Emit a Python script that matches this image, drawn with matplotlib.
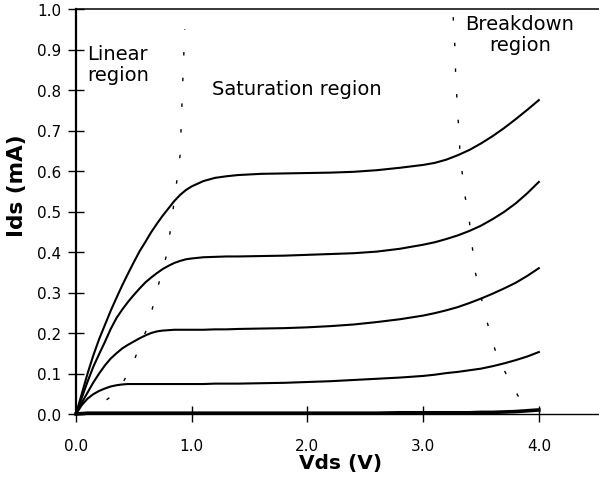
import matplotlib
matplotlib.use("Agg")
import matplotlib.pyplot as plt

# Drain-source voltage samples (V)
vds = [0.00, 0.05, 0.10, 0.15, 0.20, 0.25, 0.30, 0.35, 0.40, 0.45, 0.50,
       0.55, 0.60, 0.65, 0.70, 0.75, 0.80, 0.85, 0.90, 0.95, 1.00,
       1.1, 1.2, 1.3, 1.4, 1.6, 1.8, 2.0, 2.2, 2.4, 2.6, 2.8, 3.0,
       3.1, 3.2, 3.3, 3.4, 3.5, 3.6, 3.7, 3.8, 3.9, 4.0]

# Drain current (mA) for each gate bias, highest first
ids_vg4 = [0.0, 0.05, 0.10, 0.145, 0.185, 0.22, 0.255, 0.287, 0.318, 0.347, 0.375,
           0.402, 0.425, 0.449, 0.47, 0.49, 0.508, 0.526, 0.541, 0.553, 0.562,
           0.575, 0.583, 0.587, 0.590, 0.593, 0.594, 0.595, 0.596, 0.598, 0.602,
           0.608, 0.615, 0.620, 0.628, 0.639, 0.652, 0.668, 0.686, 0.706, 0.728,
           0.751, 0.775]
ids_vg3 = [0.0, 0.04, 0.08, 0.117, 0.148, 0.178, 0.21, 0.237, 0.258, 0.277, 0.294,
           0.31, 0.325, 0.337, 0.348, 0.358, 0.366, 0.373, 0.378, 0.382, 0.384,
           0.387, 0.388, 0.389, 0.389, 0.390, 0.391, 0.393, 0.395, 0.397, 0.401,
           0.408, 0.418, 0.424, 0.432, 0.441, 0.452, 0.465, 0.481, 0.499, 0.520,
           0.545, 0.573]
ids_vg2 = [0.0, 0.028, 0.053, 0.078, 0.10, 0.12, 0.137, 0.150, 0.162, 0.171, 0.179,
           0.187, 0.194, 0.200, 0.204, 0.206, 0.207, 0.208, 0.208, 0.208, 0.208,
           0.208, 0.209, 0.209, 0.210, 0.211, 0.212, 0.214, 0.217, 0.221, 0.227,
           0.234, 0.243, 0.249, 0.256, 0.264, 0.274, 0.285, 0.297, 0.310, 0.324,
           0.341, 0.360]
ids_vg1 = [0.0, 0.022, 0.038, 0.049, 0.057, 0.063, 0.068, 0.071, 0.073, 0.074, 0.074,
           0.074, 0.074, 0.074, 0.074, 0.074, 0.074, 0.074, 0.074, 0.074, 0.074,
           0.074, 0.075, 0.075, 0.075, 0.076, 0.077, 0.079, 0.081, 0.084, 0.087,
           0.090, 0.094, 0.097, 0.101, 0.104, 0.108, 0.112, 0.118, 0.125, 0.133,
           0.142, 0.153]
ids_vg0 = [0.0, 0.001, 0.002, 0.002, 0.002, 0.002, 0.002, 0.002, 0.002, 0.002, 0.002,
           0.002, 0.002, 0.002, 0.002, 0.002, 0.002, 0.002, 0.002, 0.002, 0.002,
           0.002, 0.002, 0.002, 0.002, 0.002, 0.002, 0.002, 0.002, 0.002, 0.002,
           0.003, 0.003, 0.003, 0.003, 0.003, 0.003, 0.004, 0.004, 0.005, 0.006,
           0.008, 0.010]

# Region boundaries
lin_sat_x = [0.08, 0.16, 0.31, 0.41, 0.49, 0.55, 0.62, 0.70, 0.79, 0.86, 0.90, 0.92, 0.94]
lin_sat_y = [0.0, 0.012, 0.045, 0.08, 0.123, 0.168, 0.215, 0.306, 0.40, 0.55, 0.64, 0.80, 0.95]
sat_bd_x = [3.26, 3.27, 3.28, 3.28, 3.29, 3.30, 3.31, 3.32, 3.34, 3.36, 3.39, 3.41,
            3.43, 3.45, 3.49, 3.52, 3.57, 3.62, 3.68, 3.75, 3.84, 3.95]
sat_bd_y = [0.98, 0.93, 0.88, 0.83, 0.79, 0.74, 0.69, 0.64, 0.59, 0.54, 0.50, 0.45,
            0.40, 0.35, 0.31, 0.26, 0.21, 0.16, 0.12, 0.08, 0.035, 0.005]

x_ticks = [0.0, 1.0, 2.0, 3.0, 4.0]
y_ticks = [0.0, 0.1, 0.2, 0.3, 0.4, 0.5, 0.6, 0.7, 0.8, 0.9, 1.0]

W, H = 599, 485
fig = plt.figure(figsize=(W / 100, H / 100), dpi=100)
ax = fig.add_axes([76 / W, 70 / H, 523 / W, 405 / H])

for ids in (ids_vg4, ids_vg3, ids_vg2, ids_vg1):
    ax.plot(vds, ids, color="black", lw=1.5, solid_joinstyle="round", zorder=3)
ax.plot(vds, ids_vg0, color="black", lw=2.6, zorder=3, clip_on=False)

ax.plot(lin_sat_x, lin_sat_y, color="black", lw=1.0, linestyle=(0, (2.5, 16)), zorder=2)
ax.plot(sat_bd_x, sat_bd_y, color="black", lw=1.0, linestyle=(0, (2.5, 16)), zorder=2)

ax.set_xlim(0, 4.52)
ax.set_ylim(0, 1.0)
ax.set_xticks(x_ticks)
ax.set_xticklabels([f"{v:.1f}" for v in x_ticks])
ax.set_yticks(y_ticks)
ax.set_yticklabels([f"{v:.1f}" for v in y_ticks])

ax.spines["right"].set_visible(False)
ax.spines["left"].set_linewidth(1.6)
ax.spines["bottom"].set_linewidth(1.0)
ax.spines["top"].set_linestyle((0, (1, 1)))
ax.spines["top"].set_linewidth(1.1)

ax.tick_params(axis="both", direction="inout", length=11, width=1.0,
               labelsize=11, colors="black")
ax.tick_params(axis="x", pad=12)
ax.tick_params(axis="y", pad=5)
ax.tick_params(top=False, right=False)


def ftext(px, py, s, **kw):
    fig.text(px / W, 1 - py / H, s, **kw)


ftext(341, 464, "Vds (V)", fontsize=14.5, fontweight="bold", ha="center", va="center")
ftext(17, 186, "Ids (mA)", fontsize=15.5, fontweight="bold", ha="center", va="center",
      rotation=90)
ftext(87, 45, "Linear\nregion", fontsize=14, ha="left", va="top", linespacing=1.15)
ftext(212, 80, "Saturation region", fontsize=14, ha="left", va="top")
ftext(520, 15, "Breakdown\nregion", fontsize=14, ha="center", va="top",
      multialignment="center", linespacing=1.15)

fig.savefig("out.png", dpi=100)
